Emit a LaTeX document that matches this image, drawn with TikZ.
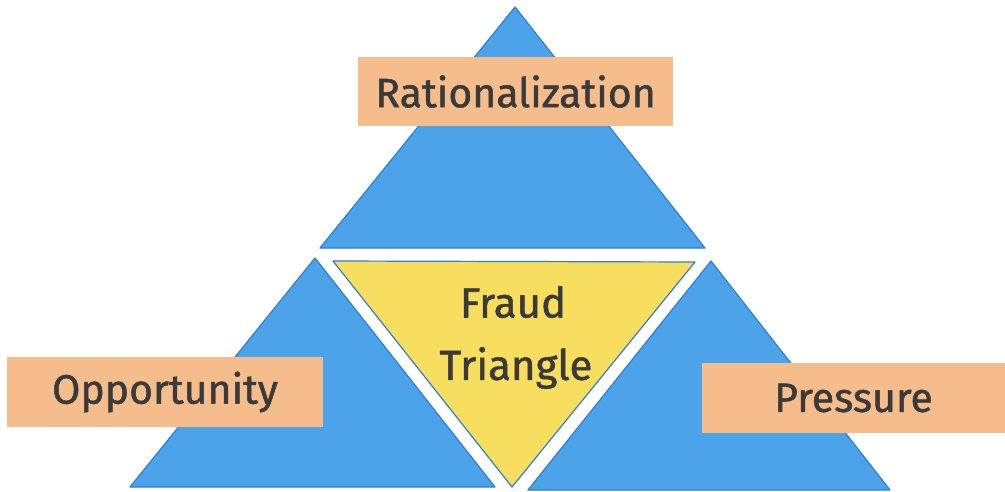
\documentclass[tikz,border=0pt]{standalone}
\usepackage{fontspec}
\setmainfont{Fira Sans}[FakeBold=1.2,AutoFakeBold=1.2]
\definecolor{triblue}{HTML}{4CA3EA}
\definecolor{edgeblue}{HTML}{2F7FD0}
\definecolor{fraudyellow}{HTML}{F8DE5E}
\definecolor{labelorange}{HTML}{F6BD8C}
\definecolor{txt}{HTML}{3A3A3A}
\begin{document}
\begin{tikzpicture}[x=1pt,y=-1pt,
  tri/.style={fill=triblue,draw=edgeblue,line width=1.2pt,line join=round},
  core/.style={fill=fraudyellow,draw=edgeblue,line width=1.2pt,line join=round},
  lab/.style={fill=labelorange,inner sep=0pt,text=txt,font=\fontsize{41}{44}\selectfont,anchor=center},
  coretext/.style={text=txt,font=\fontsize{42}{44}\selectfont,align=center}]
\useasboundingbox (0,0) rectangle (1005,492);
\fill[white] (0,0) rectangle (1005,492);
% triangles
\draw[tri] (515,7) -- (705,248) -- (320,248) -- cycle;
\draw[tri] (315,258) -- (495,487) -- (130,487) -- cycle;
\draw[tri] (711,261) -- (890,490) -- (528,490) -- cycle;
\draw[core] (333,261) -- (695,262) -- (512,487) -- cycle;
% labels
\node[lab,minimum width=315,minimum height=69] (rat) at (515.5,91.5) {Rationalization};
\node[lab,minimum width=316,minimum height=70] (opp) at (165,392) {Opportunity};
\node[lab,minimum width=303,minimum height=70] (pre) at (853.5,398) {Pressure};
\node[coretext] (fraud) at (513,302) {Fraud};
\node[coretext] (triangle) at (516,368) {Triangle};
\end{tikzpicture}
\end{document}
